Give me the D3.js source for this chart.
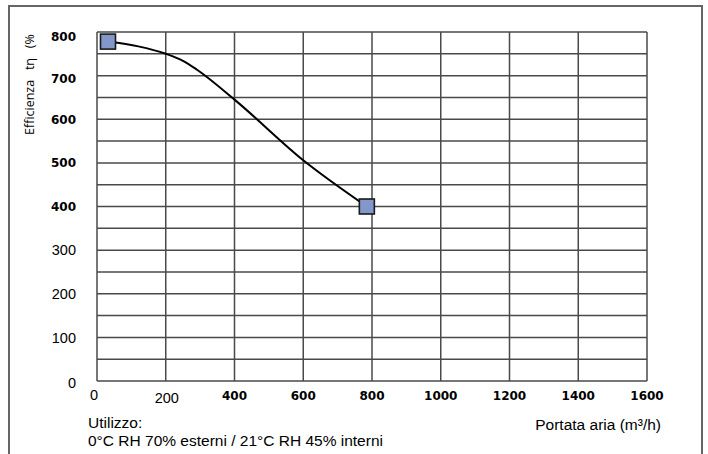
<!DOCTYPE html>
<html><head><meta charset="utf-8">
<script src="https://cdn.jsdelivr.net/npm/d3@7"></script>
<style>body{margin:0;background:#fff}</style>
</head><body>
<svg id="chart" width="708" height="454"></svg>
<script>
// Data
const curveX = [32, 120, 200, 250, 290, 400, 600, 785];
const curveY = [778, 767, 750, 734, 714, 645, 506, 400];
const markerX = [32, 785];
const markerY = [778, 400];
const xTicks = [0, 200, 400, 600, 800, 1000, 1200, 1400, 1600];
const xTickBold = [false, false, true, true, true, true, true, true, true];
const yTicks = [0, 100, 200, 300, 400, 500, 600, 700, 800];
const yTickBold = [false, false, false, false, true, true, true, true, true];
const yGrid = d3.range(0, 801, 50);
const yTitle = "Efficienza\u00a0\u00a0 tη\u00a0\u00a0 (%";
const xTitle = "Portata aria (m³/h)";
const note1 = "Utilizzo:";
const note2 = "0°C RH 70% esterni / 21°C RH 45% interni";

const svg = d3.select("#chart");
const L = 97, R = 647, T = 32, B = 381;
const x = d3.scaleLinear().domain([0, 1600]).range([L, R]);
const y = d3.scaleLinear().domain([0, 800]).range([B, T]);

// outer frame
svg.append("rect").attr("x", 9).attr("y", 6).attr("width", 693).attr("height", 470)
  .attr("fill", "none").attr("stroke", "#666").attr("stroke-width", 2);

// grid
const g = svg.append("g");
g.selectAll("line.h").data(yGrid).join("line")
  .attr("x1", L).attr("x2", R).attr("y1", d => y(d)).attr("y2", d => y(d))
  .attr("stroke", "#4a4a4a").attr("stroke-width", 1.5);
g.selectAll("line.v").data(xTicks).join("line")
  .attr("y1", T).attr("y2", B).attr("x1", d => x(d)).attr("x2", d => x(d))
  .attr("stroke", "#4a4a4a").attr("stroke-width", 1.5);

// y tick labels
svg.append("g").selectAll("text").data(yTicks).join("text")
  .attr("x", 76).attr("y", d => y(d) + (d === 800 ? 5 : d === 700 ? 3 : d === 0 ? 2 : 0))
  .attr("dy", "0.36em").attr("text-anchor", "end")
  .attr("font-family", (d, i) => yTickBold[i] ? "DejaVu Sans" : "Liberation Sans, Arial")
  .attr("font-weight", (d, i) => yTickBold[i] ? "bold" : "normal")
  .attr("font-size", (d, i) => yTickBold[i] ? 12 : 14.5)
  .attr("fill", "#000").text(d => d);

// x tick labels
svg.append("g").selectAll("text").data(xTicks).join("text")
  .attr("x", d => x(d) + (d === 0 ? -3 : d === 200 ? 1 : 0))
  .attr("y", (d, i) => xTickBold[i] ? 400 : (d === 0 ? 400 : 403))
  .attr("text-anchor", "middle")
  .attr("font-family", (d, i) => xTickBold[i] ? "DejaVu Sans" : "Liberation Sans, Arial")
  .attr("font-weight", (d, i) => xTickBold[i] ? "bold" : "normal")
  .attr("font-size", (d, i) => xTickBold[i] ? 12 : 14.5)
  .attr("fill", "#000").text(d => d);

// y title
svg.append("text").attr("transform", "translate(34,135) rotate(-90)")
  .attr("text-anchor", "start").attr("font-family", "Open Sans")
  .attr("font-size", 12.5).attr("fill", "#000").text(yTitle);

// x title & notes
svg.append("text").attr("x", 661).attr("y", 430).attr("text-anchor", "end")
  .attr("font-family", "Liberation Sans, Arial").attr("font-size", 15.5).text(xTitle);
svg.append("text").attr("x", 88).attr("y", 428)
  .attr("font-family", "Liberation Sans, Arial").attr("font-size", 15.5).text(note1);
svg.append("text").attr("x", 88).attr("y", 446)
  .attr("font-family", "Liberation Sans, Arial").attr("font-size", 15.5).text(note2);

// curve
const pts = curveX.map((v, i) => [v, curveY[i]]);
svg.append("path").datum(pts)
  .attr("d", d3.line().x(d => x(d[0])).y(d => y(d[1])).curve(d3.curveMonotoneX))
  .attr("fill", "none").attr("stroke", "#000").attr("stroke-width", 2);

// markers
const mk = markerX.map((v, i) => [v, markerY[i]]);
svg.append("g").selectAll("rect").data(mk).join("rect")
  .attr("x", d => x(d[0]) - 7.5).attr("y", d => y(d[1]) - 7.5)
  .attr("width", 15).attr("height", 15)
  .attr("fill", "#8497CB").attr("stroke", "#1a1a1a").attr("stroke-width", 1.6);
</script>
</body></html>
